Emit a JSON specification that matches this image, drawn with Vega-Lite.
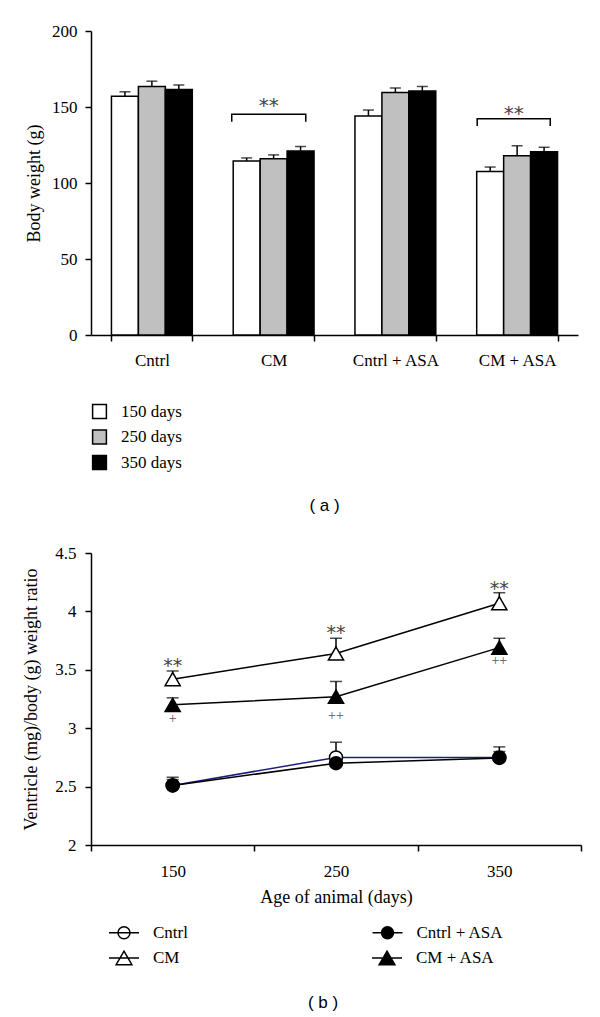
{
  "$schema": "https://vega.github.io/schema/vega-lite/v6.json",
  "background": "white",
  "padding": {"top": 22, "left": 22, "right": 10, "bottom": 0},
  "spacing": 30,
  "resolve": {
    "scale": {"fill": "independent", "stroke": "independent", "shape": "independent", "size": "independent"},
    "legend": {"fill": "independent", "stroke": "independent", "shape": "independent", "size": "independent"}
  },
  "config": {
    "view": {"stroke": null},
    "font": "Liberation Serif",
    "axis": {
      "grid": false,
      "domainColor": "black",
      "domainWidth": 1.5,
      "tickColor": "black",
      "tickWidth": 1.5,
      "tickSize": 6,
      "labelFont": "Liberation Serif",
      "labelFontSize": 17,
      "labelColor": "black",
      "titleFont": "Liberation Serif",
      "titleFontSize": 18,
      "titleFontWeight": "normal",
      "titleColor": "black"
    },
    "legend": {
      "labelFont": "Liberation Serif",
      "labelFontSize": 17,
      "labelColor": "black",
      "padding": 0
    },
    "title": {"font": "Liberation Sans", "fontSize": 17, "fontWeight": "normal", "color": "black"}
  },
  "vconcat": [
    {
      "width": 487,
      "height": 304,
      "title": {"text": "( a )", "orient": "bottom", "anchor": "middle", "offset": 25, "dx": -10},
      "resolve": {"scale": {"x": "independent"}},
      "layer": [
        {
          "data": {"values": [
            {"group": "Cntrl", "days": "150 days", "value": 157, "top": 160},
            {"group": "Cntrl", "days": "250 days", "value": 163.5, "top": 167},
            {"group": "Cntrl", "days": "350 days", "value": 161.5, "top": 164.5},
            {"group": "CM", "days": "150 days", "value": 114.5, "top": 116.5},
            {"group": "CM", "days": "250 days", "value": 116, "top": 118.5},
            {"group": "CM", "days": "350 days", "value": 121, "top": 124},
            {"group": "Cntrl + ASA", "days": "150 days", "value": 144, "top": 148},
            {"group": "Cntrl + ASA", "days": "250 days", "value": 159.5, "top": 162.5},
            {"group": "Cntrl + ASA", "days": "350 days", "value": 160.5, "top": 163.5},
            {"group": "CM + ASA", "days": "150 days", "value": 107.5, "top": 110.5},
            {"group": "CM + ASA", "days": "250 days", "value": 118, "top": 124.5},
            {"group": "CM + ASA", "days": "350 days", "value": 120.5, "top": 123.5}
          ]},
          "layer": [
            {
              "mark": {"type": "bar", "stroke": "black", "strokeWidth": 1.5},
              "encoding": {
                "x": {"field": "group", "type": "nominal", "sort": ["Cntrl", "CM", "Cntrl + ASA", "CM + ASA"],
                      "scale": {"paddingInner": 0.336, "paddingOuter": 0.168},
                      "axis": {"title": null, "labelAngle": 0, "tickBand": "extent", "labelPadding": 11}},
                "xOffset": {"field": "days", "type": "nominal", "sort": ["150 days", "250 days", "350 days"],
                            "scale": {"paddingInner": 0, "paddingOuter": 0}},
                "y": {"field": "value", "type": "quantitative", "scale": {"domain": [0, 200]},
                      "axis": {"title": "Body weight (g)", "values": [0, 50, 100, 150, 200], "labelPadding": 8, "titlePadding": 8}},
                "fill": {"field": "days", "type": "nominal",
                         "scale": {"domain": ["150 days", "250 days", "350 days"], "range": ["white", "#c0c0c0", "black"]},
                         "legend": {"title": null, "orient": "bottom", "direction": "vertical", "offset": 35,
                                    "symbolType": "square", "symbolSize": 190, "symbolStrokeColor": "black",
                                    "symbolStrokeWidth": 1.5, "rowPadding": 4.5, "labelOffset": 13}}
              }
            },
            {
              "mark": {"type": "rule", "stroke": "black", "strokeWidth": 1.5},
              "encoding": {
                "x": {"field": "group", "type": "nominal", "sort": ["Cntrl", "CM", "Cntrl + ASA", "CM + ASA"]},
                "xOffset": {"field": "days", "type": "nominal", "sort": ["150 days", "250 days", "350 days"]},
                "y": {"field": "value", "type": "quantitative", "scale": {"domain": [0, 200]}},
                "y2": {"field": "top"}
              }
            },
            {
              "mark": {"type": "tick", "orient": "horizontal", "size": 11, "thickness": 1.5, "color": "black"},
              "encoding": {
                "x": {"field": "group", "type": "nominal", "sort": ["Cntrl", "CM", "Cntrl + ASA", "CM + ASA"]},
                "xOffset": {"field": "days", "type": "nominal", "sort": ["150 days", "250 days", "350 days"]},
                "y": {"field": "top", "type": "quantitative", "scale": {"domain": [0, 200]}}
              }
            }
          ]
        },
        {
          "layer": [
            {
              "data": {"values": [
                {"id": "CM", "i": 1, "pos": 1.156, "y": 140.3},
                {"id": "CM", "i": 2, "pos": 1.156, "y": 145.2},
                {"id": "CM", "i": 3, "pos": 1.764, "y": 145.2},
                {"id": "CM", "i": 4, "pos": 1.764, "y": 140.3},
                {"id": "CM + ASA", "i": 1, "pos": 3.172, "y": 137.5},
                {"id": "CM + ASA", "i": 2, "pos": 3.172, "y": 142.2},
                {"id": "CM + ASA", "i": 3, "pos": 3.772, "y": 142.2},
                {"id": "CM + ASA", "i": 4, "pos": 3.772, "y": 137.5}
              ]},
              "mark": {"type": "line", "stroke": "black", "strokeWidth": 1.5},
              "encoding": {
                "x": {"field": "pos", "type": "quantitative", "scale": {"domain": [0, 4], "nice": false, "zero": false}, "axis": null},
                "y": {"field": "y", "type": "quantitative", "scale": {"domain": [0, 200]}},
                "detail": {"field": "id"},
                "order": {"field": "i"}
              }
            },
            {
              "data": {"values": [
                {"pos": 1.46, "y": 152.6, "label": "**"},
                {"pos": 3.472, "y": 147.4, "label": "**"}
              ]},
              "mark": {"type": "text", "font": "DejaVu Sans", "fontSize": 20, "color": "#444", "baseline": "alphabetic", "dy": 9},
              "encoding": {
                "x": {"field": "pos", "type": "quantitative", "scale": {"domain": [0, 4], "nice": false, "zero": false}, "axis": null},
                "y": {"field": "y", "type": "quantitative", "scale": {"domain": [0, 200]}},
                "text": {"field": "label"}
              }
            }
          ]
        }
      ]
    },
    {
      "width": 490,
      "height": 292,
      "title": {"text": "( b )", "orient": "bottom", "anchor": "middle", "offset": 27, "dx": -13},
      "data": {"values": [
        {"series": "Cntrl", "age": "150", "value": 2.51, "top": 2.58},
        {"series": "Cntrl", "age": "250", "value": 2.75, "top": 2.88},
        {"series": "Cntrl", "age": "350", "value": 2.75, "top": 2.84},
        {"series": "CM", "age": "150", "value": 3.42, "top": 3.49},
        {"series": "CM", "age": "250", "value": 3.64, "top": 3.77},
        {"series": "CM", "age": "350", "value": 4.07, "top": 4.16},
        {"series": "Cntrl + ASA", "age": "150", "value": 2.51, "top": 2.56},
        {"series": "Cntrl + ASA", "age": "250", "value": 2.7, "top": 2.74},
        {"series": "Cntrl + ASA", "age": "350", "value": 2.745, "top": 2.8},
        {"series": "CM + ASA", "age": "150", "value": 3.2, "top": 3.26},
        {"series": "CM + ASA", "age": "250", "value": 3.27, "top": 3.4},
        {"series": "CM + ASA", "age": "350", "value": 3.69, "top": 3.77}
      ]},
      "resolve": {"scale": {"fill": "independent"}, "legend": {"fill": "independent"}},
      "layer": [
        {
          "mark": {"type": "rule", "stroke": "black", "strokeWidth": 1.5},
          "encoding": {
            "x": {"field": "age", "type": "ordinal", "scale": {"type": "band", "paddingInner": 0, "paddingOuter": 0},
                  "axis": {"title": "Age of animal (days)", "labelAngle": 0, "tickBand": "extent", "labelPadding": 12, "titlePadding": 9}},
            "y": {"field": "value", "type": "quantitative", "scale": {"domain": [2, 4.5]},
                  "axis": {"title": "Ventricle (mg)/body (g) weight ratio", "values": [2, 2.5, 3, 3.5, 4, 4.5], "format": "~g", "labelPadding": 9, "titlePadding": 14}},
            "y2": {"field": "top"}
          }
        },
        {
          "mark": {"type": "tick", "orient": "horizontal", "size": 12, "thickness": 1.5, "color": "black"},
          "encoding": {
            "x": {"field": "age", "type": "ordinal"},
            "y": {"field": "top", "type": "quantitative", "scale": {"domain": [2, 4.5]}}
          }
        },
        {
          "mark": {"type": "line", "strokeWidth": 1.5},
          "encoding": {
            "x": {"field": "age", "type": "ordinal"},
            "y": {"field": "value", "type": "quantitative", "scale": {"domain": [2, 4.5]}},
            "stroke": {"field": "series", "type": "nominal", "legend": null,
                       "scale": {"domain": ["Cntrl", "CM", "Cntrl + ASA", "CM + ASA"], "range": ["#1e1e80", "black", "black", "black"]}}
          }
        },
        {
          "transform": [{"filter": {"field": "series", "oneOf": ["Cntrl", "Cntrl + ASA"]}}],
          "mark": {"type": "point", "shape": "circle", "size": 169, "filled": true, "stroke": "black", "strokeWidth": 1.5, "opacity": 1},
          "encoding": {
            "x": {"field": "age", "type": "ordinal"},
            "y": {"field": "value", "type": "quantitative", "scale": {"domain": [2, 4.5]}},
            "fill": {"field": "series", "type": "nominal",
                     "scale": {"domain": ["Cntrl", "Cntrl + ASA"], "range": ["white", "black"]},
                     "legend": {"title": null, "orient": "none", "legendX": 24.5, "legendY": 371, "direction": "horizontal",
                                "columnPadding": 180.5, "symbolType": "M-2,0L2,0M-0.8,0A0.8,0.8,0,1,0,0.8,0A0.8,0.8,0,1,0,-0.8,0Z",
                                "symbolSize": 225, "symbolStrokeColor": "black", "symbolStrokeWidth": 1.5, "labelOffset": 20.5}}
          }
        },
        {
          "transform": [{"filter": {"field": "series", "oneOf": ["CM", "CM + ASA"]}}],
          "mark": {"type": "point", "shape": "triangle-up", "size": 230, "filled": true, "stroke": "black", "strokeWidth": 1.5, "opacity": 1},
          "encoding": {
            "x": {"field": "age", "type": "ordinal"},
            "y": {"field": "value", "type": "quantitative", "scale": {"domain": [2, 4.5]}},
            "fill": {"field": "series", "type": "nominal",
                     "scale": {"domain": ["CM", "CM + ASA"], "range": ["white", "black"]},
                     "legend": {"title": null, "orient": "none", "legendX": 24.5, "legendY": 396, "direction": "horizontal",
                                "columnPadding": 189, "symbolType": "M-2,0L2,0M0,-0.9L1.05,0.9L-1.05,0.9Z",
                                "symbolSize": 225, "symbolStrokeColor": "black", "symbolStrokeWidth": 1.5, "labelOffset": 20.5}}
          }
        },
        {
          "data": {"values": [
            {"age": "150", "y": 3.567, "label": "**"},
            {"age": "250", "y": 3.846, "label": "**"},
            {"age": "350", "y": 4.23, "label": "**"}
          ]},
          "mark": {"type": "text", "font": "DejaVu Sans", "fontSize": 19, "color": "#444", "baseline": "alphabetic", "dy": 10},
          "encoding": {
            "x": {"field": "age", "type": "ordinal"},
            "y": {"field": "y", "type": "quantitative", "scale": {"domain": [2, 4.5]}},
            "text": {"field": "label"}
          }
        },
        {
          "data": {"values": [
            {"age": "150", "y": 3.077, "label": "+"},
            {"age": "250", "y": 3.105, "label": "++"},
            {"age": "350", "y": 3.573, "label": "++"}
          ]},
          "mark": {"type": "text", "font": "Liberation Serif", "fontSize": 14, "color": "#555", "baseline": "alphabetic", "dy": 4},
          "encoding": {
            "x": {"field": "age", "type": "ordinal"},
            "y": {"field": "y", "type": "quantitative", "scale": {"domain": [2, 4.5]}},
            "text": {"field": "label"}
          }
        }
      ]
    }
  ]
}
